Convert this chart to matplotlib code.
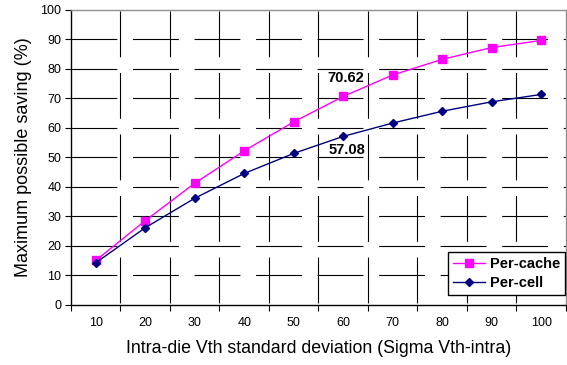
import numpy as np
import matplotlib
matplotlib.use("Agg")
import matplotlib.pyplot as plt

plt.rcParams["font.family"] = ["Liberation Sans", "DejaVu Sans"]
plt.rcParams["lines.scale_dashes"] = False

sigma = ["10", "20", "30", "40", "50", "60", "70", "80", "90", "100"]
per_cache = [15.0, 28.5, 41.2, 52.2, 62.0, 70.62, 77.9, 83.2, 87.2, 89.6]
per_cell = [14.2, 26.1, 36.1, 44.5, 51.3, 57.08, 61.6, 65.6, 68.8, 71.3]
yticks = [0, 10, 20, 30, 40, 50, 60, 70, 80, 90, 100]

fig = plt.figure(figsize=(5.67, 3.65), dpi=100)
ax = fig.add_axes([0.1252, 0.1652, 0.873, 0.808])

x = np.arange(len(sigma))
ax.plot(x, per_cache, color="#ff00ff", lw=1, marker="s", ms=5.4,
        label="Per-cache", zorder=4)
ax.plot(x, per_cell, color="#000080", lw=1, marker="D", ms=3.8,
        label="Per-cell", zorder=4)

# annotate the 60 point of each series
i = sigma.index("60")
ax.annotate(f"{per_cache[i]:.2f}", (x[i], per_cache[i]), xytext=(2, 13),
            textcoords="offset points", ha="center", va="center",
            fontsize=10.5, fontweight="bold")
ax.annotate(f"{per_cell[i]:.2f}", (x[i], per_cell[i]), xytext=(3, -10),
            textcoords="offset points", ha="center", va="center",
            fontsize=10.5, fontweight="bold")

ax.set_xlim(-0.5, len(sigma) - 0.5)
ax.set_ylim(0, 100)

# category ticks between the points, labels in the middle
ax.set_xticks(np.arange(len(sigma) + 1) - 0.5)
ax.set_xticklabels([])
ax.set_xticks(x, minor=True)
ax.set_xticklabels(sigma, minor=True)
ax.tick_params(axis="x", which="major", direction="out", length=4, width=0.8)
ax.tick_params(axis="x", which="minor", length=0, pad=9, labelsize=9)
ax.set_yticks(yticks)
ax.tick_params(axis="y", direction="out", length=4, width=0.8, pad=3,
               labelsize=9)

# dashed black grid like the old excel export
ax.grid(True, which="major", color="black", lw=0.8)
for gl in ax.yaxis.get_gridlines():
    gl.set_linestyle((0, (33, 11.3)))
for gl in ax.xaxis.get_gridlines():
    gl.set_linestyle((42.8, (33, 11.3)))
ax.yaxis.get_gridlines()[0].set_visible(False)
ax.yaxis.get_gridlines()[-1].set_visible(False)
ax.xaxis.get_gridlines()[0].set_visible(False)
ax.xaxis.get_gridlines()[-1].set_visible(False)
ax.set_axisbelow(True)

for s in ["left", "bottom"]:
    ax.spines[s].set_color("black")
    ax.spines[s].set_linewidth(1)
for s in ["top", "right"]:
    ax.spines[s].set_color("#909090")
    ax.spines[s].set_linewidth(1)

ax.set_xlabel("Intra-die Vth standard deviation (Sigma Vth-intra)",
              fontsize=12.8, labelpad=8)
ax.set_ylabel("Maximum possible saving (%)", fontsize=13, labelpad=6)

leg = ax.legend(loc="lower right", bbox_to_anchor=(0.998, 0.033),
                borderaxespad=0, fancybox=False, framealpha=1,
                edgecolor="black", handlelength=2.2, handletextpad=0.3,
                labelspacing=0.3, borderpad=0.35,
                prop={"weight": "bold", "size": 10.5})
leg.get_frame().set_linewidth(1)

plt.savefig("out.png", dpi=100)
